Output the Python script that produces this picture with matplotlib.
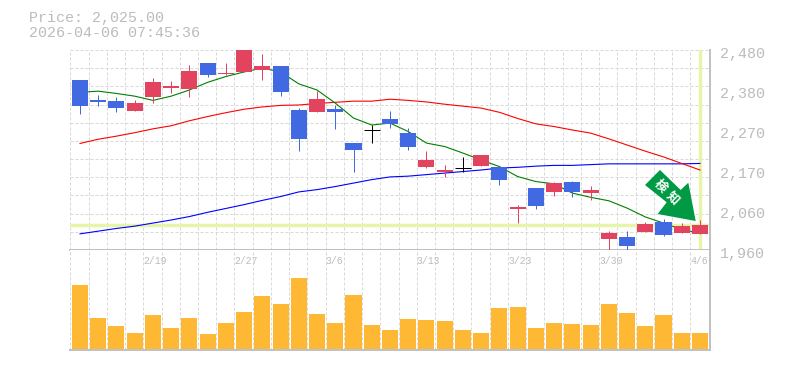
"""
plot.py
株価チャート (ローソク足 + 移動平均 + 出来高) を描く
"""

import numpy as np
from matplotlib import pyplot as plt
from matplotlib.patches import Polygon

# ローソク足 (1 本ずつ読み取り)
price_open = [2402, 2350, 2347, 2321, 2358, 2381, 2379, 2446, 2418, 2423, 2428, 2438, 2324, 2319, 2327, 2238, 2272, 2301,
              2264, 2176, 2163, 2173, 2178, 2176, 2067, 2121, 2111, 2137, 2108, 1989, 1994, 2007, 2033, 2004, 2002]
price_close = [2335, 2345, 2329, 2342, 2397, 2386, 2425, 2415, 2420, 2480, 2438, 2371, 2249, 2353, 2319, 2220, 2272, 2288,
               2228, 2194, 2168, 2173, 2207, 2142, 2072, 2074, 2134, 2111, 2116, 2004, 1970, 2028, 1999, 2022, 2025]
price_high = [2402, 2363, 2358, 2350, 2407, 2399, 2441, 2446, 2446, 2480, 2470, 2438, 2329, 2373, 2337, 2238, 2285, 2321,
              2277, 2217, 2181, 2202, 2207, 2176, 2077, 2121, 2137, 2139, 2126, 2009, 2009, 2033, 2041, 2030, 2038]
price_low = [2314, 2335, 2319, 2321, 2343, 2368, 2358, 2410, 2415, 2423, 2402, 2360, 2217, 2319, 2275, 2163, 2238, 2277,
             2220, 2173, 2150, 2163, 2178, 2129, 2030, 2067, 2100, 2098, 2090, 1960, 1960, 2007, 1996, 2004, 2002]

# 移動平均
ma_green = [2370, 2373, 2367, 2360, 2349, 2360, 2376, 2396, 2411, 2423, 2433, 2423, 2392, 2376, 2342, 2303, 2285, 2290,
            2268, 2238, 2229, 2212, 2194, 2177, 2151, 2138, 2132, 2108, 2097, 2088, 2069, 2046, 2030, 2013, 2004]
ma_red = [2237, 2248, 2256, 2265, 2275, 2283, 2296, 2307, 2317, 2326, 2332, 2336, 2337, 2341, 2344, 2347, 2347, 2352,
          2349, 2345, 2339, 2334, 2329, 2318, 2302, 2288, 2281, 2272, 2264, 2249, 2233, 2217, 2202, 2185, 2168]
ma_blue = [2002, 2009, 2016, 2022, 2030, 2038, 2047, 2058, 2068, 2078, 2089, 2099, 2111, 2117, 2125, 2134, 2143, 2150,
           2152, 2156, 2160, 2164, 2168, 2173, 2175, 2178, 2180, 2180, 2182, 2184, 2184, 2184, 2184, 2184, 2185]

# 出来高 (目盛りがないので相対値)
volume = [64, 31, 23, 16, 34, 21, 31, 15, 26, 37, 53, 45, 71, 35, 26, 54, 24, 19,
          30, 29, 28, 19, 16, 41, 42, 21, 26, 25, 24, 45, 36, 23, 34, 16, 16]

# 目盛り
date_index = [4, 9, 14, 19, 24, 29, 34]
date_labels = ["2/19", "2/27", "3/6", "3/13", "3/23", "3/30", "4/6"]
price_ticks = [2480, 2376, 2272, 2168, 2064, 1960]
price_labels = ["2,480", "2,380", "2,270", "2,170", "2,060", "1,960"]
last_price = 2025

# 色
col_up = "#e2435f"
col_down = "#4169e1"
col_grid = "#d8d8d8"
col_frame = "#c0c0c0"
col_text = "#bcbcbc"
col_mark = "#e6f5a8"
col_vol = "#ffb833"
col_arrow = "#009944"

W = 785
H = 370
plt.rcParams["font.family"] = ["Liberation Mono", "DejaVu Sans Mono", "Noto Sans CJK JP"]

fig = plt.figure(figsize=(W / 100, H / 100), dpi=100)
# px 指定で axes を置く
ax = fig.add_axes([70 / W, 1 - 250 / H, 640 / W, 200 / H])
ax2 = fig.add_axes([70 / W, 1 - 350 / H, 640 / W, 100 / H])

x = np.arange(len(volume))
x_min = -0.548
x_max = 34.55
grid_x = x - 0.53

for a in (ax, ax2):
    a.set_xlim(x_min, x_max)
    a.set_xticks(grid_x)
    a.tick_params(length=0, labelbottom=False, labelleft=False)
    a.grid(axis="x", color=col_grid, lw=0.72, ls=(0, (3, 2)))
    a.set_axisbelow(True)
    for s in ["left", "top"]:
        a.spines[s].set_visible(False)
    for s in ["right", "bottom"]:
        a.spines[s].set_color(col_frame)
        a.spines[s].set_linewidth(1.4)

# 価格チャート
ax.set_ylim(1960, 2480)
ax.set_yticks(np.linspace(1960, 2480, 12)[1:])
ax.grid(axis="y", color=col_grid, lw=0.72, ls=(0, (3, 2)))

ax.axhline(last_price, color=col_mark, lw=2.5, zorder=1.5)
ax.plot([x[-1], x[-1]], [1965, 2480], color=col_mark, lw=2.5, zorder=1.5)

ax.plot(x, ma_blue, color="#0000ff", lw=0.8, zorder=2)
ax.plot(x, ma_red, color="#ff0000", lw=0.8, zorder=2)
ax.plot(x, ma_green, color="#008000", lw=0.8, zorder=2)

for i in range(len(x)):
    o = price_open[i]
    c = price_close[i]
    if c > o:
        col = col_up
    elif c < o:
        col = col_down
    else:
        col = "black"
    ax.vlines(x[i], price_low[i], price_high[i], color=col, lw=0.72, zorder=3)
    if c == o:
        ax.hlines(c, x[i] - 0.44, x[i] + 0.44, color=col, lw=0.72, zorder=3)
    else:
        ax.bar(x[i], abs(c - o), bottom=min(o, c), width=0.88, color=col, lw=0, zorder=3)

for p, s in zip(price_ticks, price_labels):
    ax.annotate(s, (1, p), xycoords=ax.get_yaxis_transform(), xytext=(10, -4), textcoords="offset pixels",
                fontsize=10.8, color=col_text, va="center", ha="left", annotation_clip=False)

# 出来高
ax2.set_ylim(-1.5, 98.5)
ax2.set_yticks([])
ax2.bar(x, volume, width=0.88, color=col_vol, lw=0, zorder=3)
for i, s in zip(date_index, date_labels):
    ax2.annotate(s, (grid_x[i], 1), xycoords=ax2.get_xaxis_transform(), xytext=(0, -11.5), textcoords="offset pixels",
                 fontsize=7, color=col_text, va="center", ha="left", annotation_clip=False, zorder=4)

# ヘッダ
fig.text(29 / W, 1 - 18 / H, "Price: 2,025.00", fontsize=10.8, color=col_text, va="center")
fig.text(29 / W, 1 - 33 / H, "2026-04-06 07:45:36", fontsize=10.8, color=col_text, va="center")

# 矢印マーク (画像の px で指定)
arrow_px = [(660, 170), (645, 185), (666.7, 202.3), (657.7, 214), (695.7, 221), (688.3, 182.7), (680.7, 190)]
arrow_xy = [(px / W, 1 - py / H) for px, py in arrow_px]
fig.add_artist(Polygon(arrow_xy, closed=True, transform=fig.transFigure, facecolor=col_arrow, edgecolor="none", zorder=5))
fig.text(660.7 / W, 1 - 186 / H, "検", fontsize=9, color="white", rotation=-45, ha="center", va="center",
         family="Noto Sans CJK JP", fontweight="bold", zorder=6)
fig.text(672.7 / W, 1 - 197.7 / H, "知", fontsize=9, color="white", rotation=-45, ha="center", va="center",
         family="Noto Sans CJK JP", fontweight="bold", zorder=6)

fig.savefig("out.png", dpi=100)
